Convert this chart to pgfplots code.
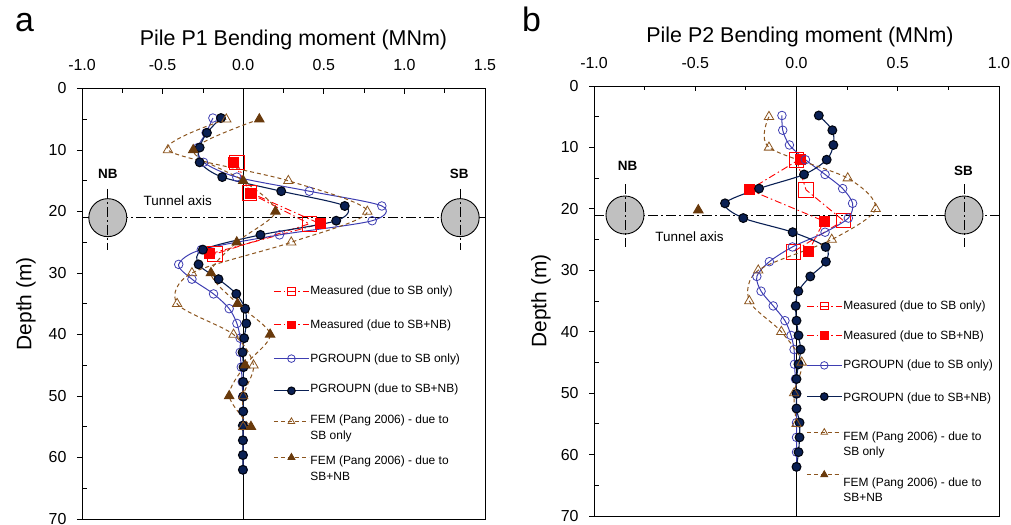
\documentclass[border=0pt]{standalone}
\usepackage{fontspec}
\setmainfont{Liberation Sans}
\usepackage{pgfplots}
\pgfplotsset{compat=1.18}

\definecolor{navy}{RGB}{10,32,84}
\definecolor{pblue}{RGB}{62,62,178}
\definecolor{brn}{RGB}{140,85,30}
\definecolor{dbrn}{RGB}{105,58,12}
\definecolor{tgrey}{RGB}{192,192,192}

\tikzset{tunaxis/.style={black, line width=0.8bp, dash pattern=on 10bp off 3bp on 2bp off 3bp}}
\newcommand{\twoline}[4]{\raisebox{0pt}[#3][#4]{\begin{tabular}[t]{@{}l@{}}#1\\[1.5bp]#2\end{tabular}}}

\pgfplotsset{
  panel/.style={
    scale only axis,
    y dir=reverse,
    ymin=0, ymax=70,
    xticklabel pos=right,
    xtick pos=right,
    ytick pos=left,
    tick align=inside,
    ytick={5,15,...,65},
    yticklabels={},
    extra y ticks={0,10,...,70},
    extra y tick style={tick align=outside},
    minor x tick num=1,
    major tick length=5bp,
    minor tick length=4bp,
    tick style={black, line width=0.8bp},
    axis line style={line width=1bp},
    tick label style={font=\fontsize{16}{18}\selectfont},
    yticklabel style={xshift=-7bp},
    /pgf/number format/assume math mode=true,
    xticklabel style={yshift=14bp, /pgf/number format/.cd, fixed, fixed zerofill, precision=1},
    xlabel style={font=\fontsize{21.5}{24}\selectfont},
    ylabel style={font=\fontsize{21}{24}\selectfont},
    ylabel={Depth (m)},
    legend style={draw=none, fill=none, font=\fontsize{12}{14}\selectfont,
      anchor=north west, inner sep=0pt, nodes={inner sep=1bp}},
    legend cell align=left,
    legend image code/.code={\draw[mark repeat=2,mark phase=2] plot coordinates {(0bp,0bp) (17.5bp,0bp) (35bp,0bp)};},
    legend image post style={mark size=3.8bp},
  },
  measSB/.style={color=red, line width=0.9bp, dash pattern=on 7bp off 3bp on 1.5bp off 3bp, mark=square, mark size=7.3bp, mark options={solid, line width=0.9bp}},
  measSBNB/.style={color=red, line width=0.9bp, dash pattern=on 7bp off 3bp on 1.5bp off 3bp, mark=square*, mark size=5bp, mark options={solid, fill=red}},
  pgSB/.style={color=pblue, line width=1bp, smooth, mark=o, mark size=4.3bp, mark options={solid, line width=0.8bp}},
  pgSBNB/.style={color=navy, line width=1.1bp, smooth, mark=*, mark size=4.4bp, mark options={solid, fill=navy, draw=black!80!navy}},
  femSB/.style={color=brn, line width=1bp, dash pattern=on 4bp off 3bp, smooth, mark=triangle, mark size=5.4bp, mark options={solid, line width=0.8bp}},
  femSBNB/.style={color=brn, line width=1bp, dash pattern=on 4bp off 3bp, smooth, mark=triangle*, mark size=5.4bp, mark options={solid, fill=dbrn, draw=dbrn}},
}

\begin{document}
\begin{tikzpicture}
\useasboundingbox (0,0) rectangle (1011bp,525bp);
\node[font=\fontsize{34}{36}\selectfont, anchor=base west, inner sep=0pt] at (15bp,493bp) {a};
\node[font=\fontsize{34}{36}\selectfont, anchor=base west, inner sep=0pt] at (522bp,493bp) {b};

% ---------------- Panel a ----------------
\begin{axis}[panel, at={(82bp,6bp)}, anchor=south west, width=403bp, height=430.5bp,
  xmin=-1, xmax=1.5, xtick={-1,-0.5,0,0.5,1,1.5},
  xlabel={Pile P1 Bending moment (MNm)}, xlabel style={xshift=10bp, yshift=3bp},
  ylabel style={at={(axis description cs:-0.139,0.5)}, anchor=center},
  legend style={at={(axis cs:0.186,31.95)}, row sep=21.5bp}]
  \draw[tunaxis] (axis cs:-1,21) -- (axis cs:1.5,21);
  \draw[black, line width=0.9bp, fill=tgrey] (axis cs:-0.84,21) circle[radius=19bp];
  \draw[black, line width=0.9bp, fill=tgrey] (axis cs:1.346,21) circle[radius=19bp];
  \draw[tunaxis] (axis cs:-0.84,16.3) -- (axis cs:-0.84,26.2);
  \draw[tunaxis] (axis cs:1.346,16.3) -- (axis cs:1.346,26.2);
  \draw[black, line width=1bp] (axis cs:0,0) -- (axis cs:0,70);
  \node[font=\bfseries\fontsize{13.5}{15}\selectfont] at (axis cs:-0.84,13.8) {NB};
  \node[font=\bfseries\fontsize{13.5}{15}\selectfont] at (axis cs:1.34,13.8) {SB};
  \node[font=\fontsize{13.5}{15}\selectfont] at (axis cs:-0.406,18.2) {Tunnel axis};

  \addplot[measSB] coordinates {(-0.04,12.0) (0.04,17.0) (0.41,22.0) (-0.174,26.9)};
  \addlegendentry{Measured (due to SB only)}
  \addplot[measSBNB] coordinates {(-0.06,12.0) (0.048,17.0) (0.478,22.0) (-0.21,26.9)};
  \addlegendentry{Measured (due to SB+NB)}
  \addplot[pgSB] coordinates {
    (-0.188,4.8) (-0.23,7.2) (-0.28,9.6) (-0.246,12.0) (-0.04,14.4) (0.41,16.7)
    (0.86,19.1) (0.80,21.5) (0.225,23.8) (-0.26,26.2) (-0.40,28.6) (-0.318,31.0)
    (-0.184,33.4) (-0.087,35.8) (-0.039,38.2) (-0.019,40.6) (-0.019,42.9) (-0.012,45.3)
    (-0.006,47.7) (-0.003,50.1) (0,52.5) (0,54.8) (0,57.2) (0,59.6) (0,62.0)};
  \addlegendentry{PGROUPN (due to SB only)}
  \addplot[pgSBNB] coordinates {
    (-0.138,4.8) (-0.225,7.2) (-0.27,9.6) (-0.27,12.0) (-0.13,14.4) (0.236,16.7)
    (0.63,19.1) (0.577,21.5) (0.107,23.8) (-0.25,26.2) (-0.277,28.6) (-0.153,31.0)
    (-0.043,33.4) (0.012,35.8) (0.019,38.2) (0.006,40.6) (-0.004,42.9) (0.002,45.3)
    (0,47.7) (0,50.1) (0,52.5) (-0.002,54.8) (-0.002,57.2) (-0.002,59.6) (-0.002,62.0)};
  \addlegendentry{\raisebox{0pt}[5.8bp][2.5bp]{PGROUPN (due to SB+NB)}}
  \addplot[femSB] coordinates {
    (-0.105,5) (-0.467,10) (0.28,15) (0.77,20) (0.298,25) (-0.318,30)
    (-0.41,35) (-0.06,40) (0.064,45) (0.0,50) (0.0,55)};
  \addlegendentry{\twoline{FEM (Pang 2006) - due to}{SB only}{5.8bp}{2.5bp}}
  \addplot[femSBNB] coordinates {
    (0.10,5) (-0.31,10) (0.0,15) (0.20,20) (-0.04,25) (-0.20,30)
    (-0.035,35) (0.167,40) (0.012,45) (-0.087,50) (0.048,55)};
  \addlegendentry{\twoline{FEM (Pang 2006) - due to}{SB+NB}{15.8bp}{2.5bp}}
\end{axis}

% ---------------- Panel b ----------------
\begin{axis}[panel, at={(594bp,9bp)}, anchor=south west, width=405bp, height=430bp,
  xmin=-1, xmax=1, xtick={-1,-0.5,0,0.5,1},
  xlabel={Pile P2 Bending moment (MNm)}, xlabel style={xshift=3.5bp, yshift=3bp},
  ylabel style={at={(axis description cs:-0.131,0.5)}, anchor=center},
  legend style={at={(axis cs:0.047,34.8)}, row sep=17.5bp}]
  \draw[tunaxis] (axis cs:-1,21) -- (axis cs:1,21);
  \draw[black, line width=0.9bp, fill=tgrey] (axis cs:-0.847,21) circle[radius=19bp];
  \draw[black, line width=0.9bp, fill=tgrey] (axis cs:0.827,21) circle[radius=19bp];
  \draw[tunaxis] (axis cs:-0.847,16.0) -- (axis cs:-0.847,26.2);
  \draw[tunaxis] (axis cs:0.827,16.0) -- (axis cs:0.827,26.2);
  \draw[black, line width=1bp] (axis cs:0,0) -- (axis cs:0,70);
  \node[font=\bfseries\fontsize{13.5}{15}\selectfont] at (axis cs:-0.834,13.0) {NB};
  \node[font=\bfseries\fontsize{13.5}{15}\selectfont] at (axis cs:0.824,13.75) {SB};
  \node[font=\fontsize{13.5}{15}\selectfont] at (axis cs:-0.528,24.5) {Tunnel axis};

  \addplot[measSB] coordinates {(0.0,12.0) (0.047,16.9) (0.231,21.9) (-0.016,27.0)};
  \addlegendentry{Measured (due to SB only)}
  \addplot[measSBNB] coordinates {(0.017,11.9) (-0.233,16.9) (0.136,22.0) (0.058,27.0)};
  \addlegendentry{Measured (due to SB+NB)}
  \addplot[pgSB] coordinates {
    (-0.072,4.8) (-0.068,7.2) (-0.035,9.6) (0.044,12.0) (0.141,14.4) (0.228,16.7)
    (0.277,19.1) (0.256,21.5) (0.141,23.8) (-0.02,26.2) (-0.134,28.6) (-0.196,31.0)
    (-0.175,33.4) (-0.115,35.8) (-0.057,38.2) (-0.027,40.6) (-0.012,42.9) (-0.01,45.3)
    (-0.005,47.7) (0,50.1) (0,52.5) (0,54.8) (0,57.2) (0,59.6) (0,62.0)};
  \addlegendentry{PGROUPN (due to SB only)}
  \addplot[pgSBNB] coordinates {
    (0.11,4.8) (0.177,7.2) (0.182,9.6) (0.149,12.0) (0.037,14.4) (-0.185,16.7)
    (-0.353,19.1) (-0.263,21.5) (-0.019,23.8) (0.144,26.2) (0.145,28.6) (0.068,31.0)
    (0.009,33.4) (-0.004,35.8) (0,38.2) (0.01,40.6) (0.02,42.9) (0.01,45.3)
    (0,47.7) (0,50.1) (0,52.5) (0.015,54.8) (0.015,57.2) (0.01,59.6) (0,62.0)};
  \addlegendentry{\raisebox{0pt}[11.8bp][2.5bp]{PGROUPN (due to SB+NB)}}
  \addplot[femSB] coordinates {
    (-0.136,5) (-0.136,10) (0.253,15) (0.391,20) (0.174,25) (-0.189,30)
    (-0.233,35) (-0.075,40) (0.026,45) (-0.012,50) (0.0,55)};
  \addlegendentry{\twoline{FEM (Pang 2006) - due to}{SB only}{17.8bp}{2.5bp}}
  \addplot[femSBNB] coordinates {(-0.485,20.2)};
  \addlegendentry{\twoline{FEM (Pang 2006) - due to}{SB+NB}{24.8bp}{2.5bp}}
\end{axis}
\end{tikzpicture}
\end{document}
